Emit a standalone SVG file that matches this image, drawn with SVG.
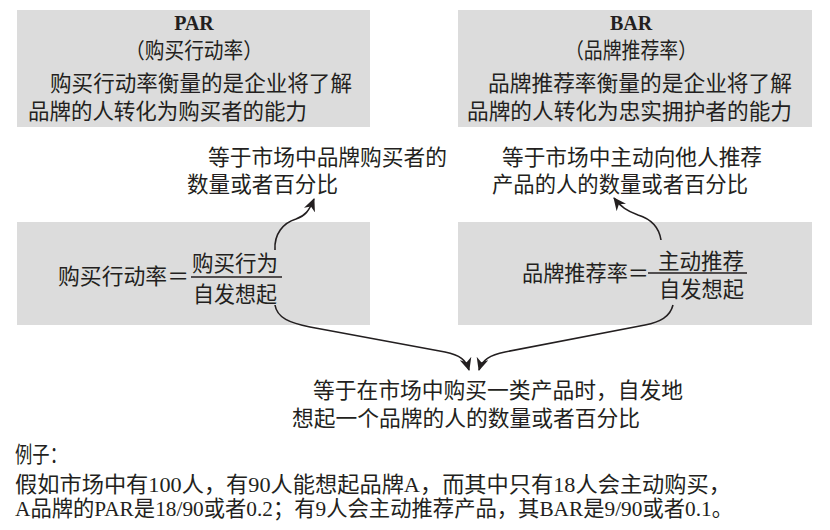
<svg xmlns="http://www.w3.org/2000/svg" width="830" height="530" viewBox="0 0 830 530">
<defs>
<style>
.box{fill:#dcdcdc;}
.t{font-family:"Liberation Serif","Noto Sans CJK SC",serif;font-size:21.5px;fill:#231f20;}
.h{font-family:"Liberation Serif","Noto Sans CJK SC",serif;font-size:20px;font-weight:bold;fill:#231f20;}
.c{text-anchor:middle;}
.ln{fill:none;stroke:#231f20;stroke-width:1.6;}
.rule{stroke:#231f20;stroke-width:1.3;}
</style>
<marker id="ah" markerUnits="userSpaceOnUse" markerWidth="14" markerHeight="12" viewBox="0 0 14 12" refX="12" refY="6" orient="auto">
<path d="M0,0 L13,6 L0,12 L4,6 Z" fill="#231f20"/>
</marker>
</defs>
<rect width="830" height="530" fill="#ffffff"/>

<g id="par-box">
<rect class="box" x="17" y="10" width="353" height="117"/>
<text class="h c" x="194" y="30">PAR</text>
<text class="t c" x="194" y="58" textLength="138" lengthAdjust="spacingAndGlyphs">（购买行动率）</text>
<text class="t" x="50" y="91" textLength="302" lengthAdjust="spacingAndGlyphs">购买行动率衡量的是企业将了解</text>
<text class="t" x="28" y="119" textLength="279" lengthAdjust="spacingAndGlyphs">品牌的人转化为购买者的能力</text>
</g>

<g id="bar-box">
<rect class="box" x="458" y="10" width="354" height="117"/>
<text class="h c" x="631" y="30">BAR</text>
<text class="t c" x="631" y="58" textLength="132" lengthAdjust="spacingAndGlyphs">（品牌推荐率）</text>
<text class="t" x="488" y="91" textLength="304" lengthAdjust="spacingAndGlyphs">品牌推荐率衡量的是企业将了解</text>
<text class="t" x="467" y="119" textLength="325" lengthAdjust="spacingAndGlyphs">品牌的人转化为忠实拥护者的能力</text>
</g>

<g id="par-result">
<text class="t" x="208" y="165" textLength="239" lengthAdjust="spacingAndGlyphs">等于市场中品牌购买者的</text>
<text class="t" x="187" y="192" textLength="151" lengthAdjust="spacingAndGlyphs">数量或者百分比</text>
</g>

<g id="bar-result">
<text class="t" x="502" y="165" textLength="260" lengthAdjust="spacingAndGlyphs">等于市场中主动向他人推荐</text>
<text class="t" x="492" y="192" textLength="256" lengthAdjust="spacingAndGlyphs">产品的人的数量或者百分比</text>
</g>

<g id="par-formula">
<rect class="box" x="17" y="222" width="353" height="103"/>
<text class="t" x="58" y="284" textLength="131" lengthAdjust="spacingAndGlyphs">购买行动率＝</text>
<text class="t" x="192" y="271" textLength="86" lengthAdjust="spacingAndGlyphs">购买行为</text>
<line class="rule" x1="191" y1="277" x2="282" y2="277"/>
<text class="t" x="193" y="302" textLength="84" lengthAdjust="spacingAndGlyphs">自发想起</text>
</g>

<g id="bar-formula">
<rect class="box" x="458" y="222" width="354" height="103"/>
<text class="t" x="522" y="281" textLength="127" lengthAdjust="spacingAndGlyphs">品牌推荐率＝</text>
<text class="t" x="658" y="269" textLength="86" lengthAdjust="spacingAndGlyphs">主动推荐</text>
<line class="rule" x1="648" y1="273" x2="747" y2="273"/>
<text class="t" x="659" y="297" textLength="85" lengthAdjust="spacingAndGlyphs">自发想起</text>
</g>

<g id="recall-result">
<text class="t" x="313" y="398" textLength="370" lengthAdjust="spacingAndGlyphs">等于在市场中购买一类产品时，自发地</text>
<text class="t" x="292" y="426" textLength="348" lengthAdjust="spacingAndGlyphs">想起一个品牌的人的数量或者百分比</text>
</g>

<g id="example">
<text class="t" x="15" y="462" textLength="52" lengthAdjust="spacingAndGlyphs">例子：</text>
<text class="t" x="15" y="492" textLength="716" lengthAdjust="spacingAndGlyphs">假如市场中有100人，有90人能想起品牌A，而其中只有18人会主动购买，</text>
<text class="t" x="15" y="516" textLength="718" lengthAdjust="spacingAndGlyphs">A品牌的PAR是18/90或者0.2；有9人会主动推荐产品，其BAR是9/90或者0.1。</text>
</g>

<g id="connectors">
<path class="ln" d="M275,250 C274,234 283,223 296,219 C305,216 309,211 314,199" marker-end="url(#ah)"/>
<path class="ln" d="M661,240 C659,227 651,219 638,215 C627,211 621,207 614,198" marker-end="url(#ah)"/>
<path class="ln" d="M275,305 C277,318 290,323 310,327 L445,352 C460,355 466,360 469,370" marker-end="url(#ah)"/>
<path class="ln" d="M673,305 C670,317 660,322 645,325 L505,352 C490,355 482,360 479,370" marker-end="url(#ah)"/>
</g>
</svg>
